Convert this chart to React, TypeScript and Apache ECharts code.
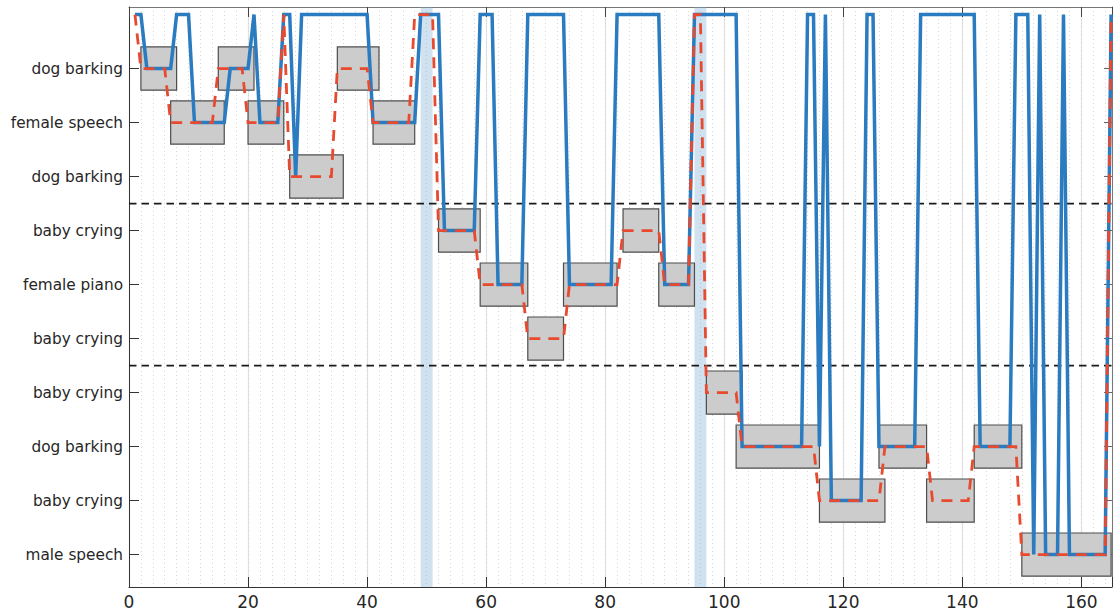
import React, { useEffect, useRef } from 'react';
import * as echarts from 'echarts';

// Row labels (row 0 is the unlabeled "silence" level at the top)
const rowLabels = [
  'dog barking',
  'female speech',
  'dog barking',
  'baby crying',
  'female piano',
  'baby crying',
  'baby crying',
  'dog barking',
  'baby crying',
  'male speech',
];
const rowValues = [1, 2, 3, 4, 5, 6, 7, 8, 9, 10];

// Blue (solid) line
const blueX = [1, 2, 3, 7, 8, 10, 11, 16, 17, 20, 21, 22, 25, 26, 27, 28, 29, 40, 41, 48, 49, 52, 53, 58, 59, 61, 62, 66, 67, 73, 74, 81, 82, 89, 90, 94, 95, 102, 103, 113, 114, 115, 116, 117, 118, 123, 124, 125, 126, 132, 133, 142, 143, 148, 149, 151, 152, 153, 154, 156, 157, 158, 164, 165];
const blueY = [0, 0, 1, 1, 0, 0, 2, 2, 1, 1, 0, 2, 2, 0, 0, 3, 0, 0, 2, 2, 0, 0, 4, 4, 0, 0, 5, 5, 0, 0, 5, 5, 0, 0, 5, 5, 0, 0, 8, 8, 0, 0, 8, 0, 9, 9, 0, 0, 8, 8, 0, 0, 8, 8, 0, 0, 10, 0, 10, 10, 0, 10, 10, 0];

// Red (dashed) line
const redX = [1, 2, 6, 7, 14, 15, 19, 20, 25, 26, 27, 34, 35, 40, 41, 47, 48, 51, 52, 58, 59, 66, 67, 73, 74, 82, 83, 89, 90, 94, 95, 96, 97, 102, 103, 115, 116, 126, 127, 134, 135, 141, 142, 149, 150, 164, 165];
const redY = [0, 1, 1, 2, 2, 1, 1, 2, 2, 0, 3, 3, 1, 1, 2, 2, 0, 0, 4, 4, 5, 5, 6, 6, 5, 5, 4, 4, 5, 5, 0, 0, 7, 7, 8, 8, 9, 9, 8, 8, 9, 9, 8, 8, 10, 10, 0];

// Gray segment boxes
const boxStart = [2, 7, 15, 20, 27, 35, 41, 52, 59, 67, 73, 83, 89, 97, 102, 116, 126, 134, 142, 150];
const boxEnd = [8, 16, 21, 26, 36, 42, 48, 59, 67, 73, 82, 89, 95, 103, 116, 127, 134, 142, 150, 165];
const boxRow = [1, 2, 1, 2, 3, 1, 2, 4, 5, 6, 5, 4, 5, 7, 8, 9, 8, 9, 8, 10];

// Light blue bands
const bandStart = [49, 95];
const bandEnd = [51, 97];

// Black dashed separators
const separators = [3.5, 6.5];

const X_MIN = 0;
const X_MAX = 165.15;
const Y_MIN = -0.14;
const Y_MAX = 10.6;

export default function App() {
  const ref = useRef<HTMLDivElement>(null);

  useEffect(() => {
    document.body.style.margin = '0';
    const chart = echarts.init(ref.current as HTMLDivElement, null, { renderer: 'svg' });
    const font = 'DejaVu Sans';
    const textColor = '#262626';

    const option: any = {
      animation: false,
      grid: { left: 129, right: 1, top: 7, bottom: 25, containLabel: false },
      xAxis: [
        {
          type: 'value',
          position: 'bottom',
          min: X_MIN,
          max: X_MAX,
          interval: 20,
          axisLine: { show: true, onZero: false, lineStyle: { color: '#333333', width: 1 } },
          axisTick: { show: true, inside: true, length: 10, lineStyle: { color: '#333333' } },
          axisLabel: {
            formatter: (v: number) => (Math.abs(v % 20) < 1e-6 ? String(Math.round(v)) : ''),
            color: textColor,
            fontFamily: font,
            fontSize: 17,
            margin: 6,
          },
          splitLine: { show: true, lineStyle: { color: '#e2e2e2', width: 1.2 } },
        },
        {
          type: 'value',
          position: 'top',
          min: X_MIN,
          max: X_MAX,
          interval: 20,
          axisLine: { show: true, onZero: false, lineStyle: { color: '#777777', width: 1 } },
          axisTick: { show: true, inside: true, length: 10, lineStyle: { color: '#444444' } },
          axisLabel: { show: false },
          splitLine: { show: false },
        },
        {
          type: 'value',
          position: 'bottom',
          min: X_MIN,
          max: X_MAX,
          interval: 2,
          axisLine: { show: false },
          axisTick: { show: false },
          axisLabel: { show: false },
          splitLine: { show: true, lineStyle: { color: '#d6d6d6', width: 1, type: [1, 3] } },
        },
      ],
      yAxis: [
        {
          type: 'value',
          position: 'left',
          inverse: true,
          min: Y_MIN,
          max: Y_MAX,
          axisLine: { show: true, onZero: false, lineStyle: { color: '#333333', width: 1 } },
          axisTick: { show: true, inside: true, length: 10, customValues: rowValues, lineStyle: { color: '#333333' } },
          axisLabel: {
            customValues: rowValues,
            formatter: (v: number) => rowLabels[Math.round(v) - 1] ?? '',
            color: textColor,
            fontFamily: font,
            fontSize: 15.3,
            margin: 6,
          },
          splitLine: { show: false },
        },
        {
          type: 'value',
          position: 'right',
          inverse: true,
          min: Y_MIN,
          max: Y_MAX,
          axisLine: { show: true, onZero: false, lineStyle: { color: '#777777', width: 1 } },
          axisTick: { show: true, inside: true, length: 8, customValues: rowValues, lineStyle: { color: '#666666' } },
          axisLabel: { show: false },
          splitLine: { show: false },
        },
      ],
      series: [
        {
          type: 'custom',
          name: 'bands',
          xAxisIndex: 0,
          yAxisIndex: 0,
          z: 1,
          silent: true,
          data: bandStart.map((s, i) => [s, bandEnd[i]]),
          encode: { x: [0, 1] },
          renderItem: (params: any, api: any) => {
            const p0 = api.coord([api.value(0), Y_MIN]);
            const p1 = api.coord([api.value(1), Y_MAX]);
            return {
              type: 'rect',
              shape: {
                x: p0[0],
                y: Math.min(p0[1], p1[1]),
                width: p1[0] - p0[0],
                height: Math.abs(p1[1] - p0[1]),
              },
              style: { fill: 'rgba(120,170,210,0.35)' },
            };
          },
        },
        {
          type: 'custom',
          name: 'separators',
          xAxisIndex: 0,
          yAxisIndex: 0,
          z: 2,
          silent: true,
          data: separators.map((y) => [X_MIN, y]),
          encode: { x: 0, y: 1 },
          renderItem: (params: any, api: any) => {
            const p0 = api.coord([X_MIN, api.value(1)]);
            const p1 = api.coord([X_MAX, api.value(1)]);
            return {
              type: 'line',
              shape: { x1: p0[0], y1: p0[1], x2: p1[0], y2: p1[1] },
              style: { stroke: '#1a1a1a', lineWidth: 1.8, lineDash: [7.5, 5] },
            };
          },
        },
        {
          type: 'custom',
          name: 'segments',
          xAxisIndex: 0,
          yAxisIndex: 0,
          z: 3,
          silent: true,
          data: boxStart.map((s, i) => [s, boxEnd[i], boxRow[i]]),
          encode: { x: [0, 1], y: 2 },
          renderItem: (params: any, api: any) => {
            const p0 = api.coord([api.value(0), api.value(2) - 0.4]);
            const p1 = api.coord([api.value(1), api.value(2) + 0.4]);
            return {
              type: 'rect',
              shape: {
                x: p0[0],
                y: Math.min(p0[1], p1[1]),
                width: p1[0] - p0[0],
                height: Math.abs(p1[1] - p0[1]),
              },
              style: { fill: '#cccccc', stroke: '#4d4d4d', lineWidth: 1.2 },
            };
          },
        },
        {
          type: 'line',
          name: 'prediction',
          xAxisIndex: 0,
          yAxisIndex: 0,
          z: 4,
          showSymbol: false,
          symbol: 'none',
          clip: false,
          data: blueX.map((x, i) => [x, blueY[i]]),
          lineStyle: { color: '#2a7bbf', width: 3.5, cap: 'butt', join: 'miter' },
        },
        {
          type: 'line',
          name: 'ground truth',
          xAxisIndex: 0,
          yAxisIndex: 0,
          z: 5,
          showSymbol: false,
          symbol: 'none',
          clip: false,
          data: redX.map((x, i) => [x, redY[i]]),
          lineStyle: { color: '#e84a30', width: 2.8, type: [11, 8], cap: 'butt', join: 'miter' },
        },
      ],
    };

    chart.setOption(option);
    return () => {
      chart.dispose();
    };
  }, []);

  return (
    <div
      ref={ref}
      style={{ position: 'fixed', left: 0, top: 0, width: 1115, height: 612, background: '#ffffff' }}
    />
  );
}
